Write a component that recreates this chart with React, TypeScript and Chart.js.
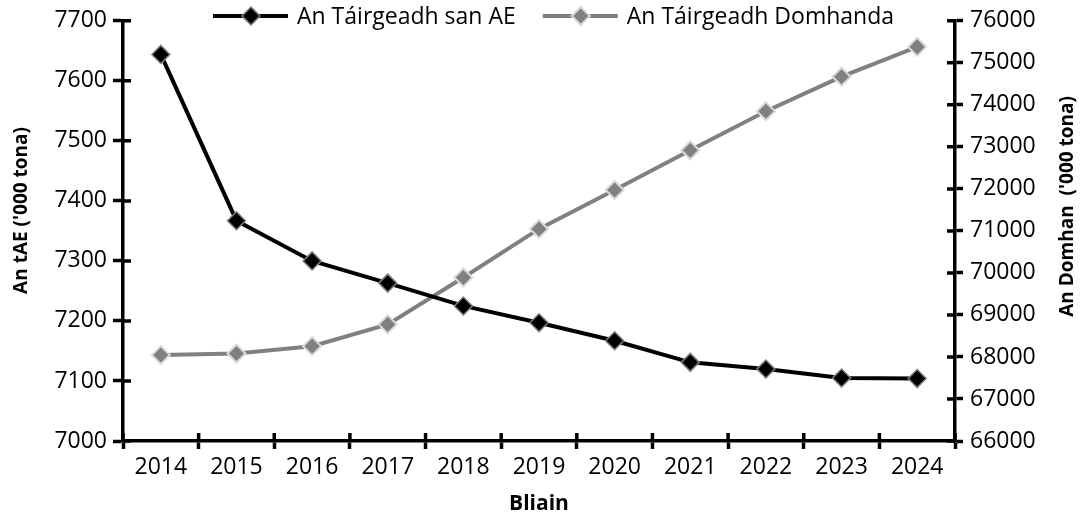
import React, { useEffect, useRef } from "react";
import { Chart, registerables } from "chart.js";

Chart.register(...registerables);

const years = ["2014", "2015", "2016", "2017", "2018", "2019", "2020", "2021", "2022", "2023", "2024"];
const euProduction = [7644, 7367, 7300, 7263, 7225, 7197, 7167, 7131, 7120, 7105, 7104];
const worldProduction = [68045, 68083, 68257, 68776, 69891, 71047, 71974, 72918, 73847, 74670, 75380];

const euLabel = "An Táirgeadh san AE";
const worldLabel = "An Táirgeadh Domhanda";
const leftTitle = "An tAE ('000 tona)";
const rightTitle = "An Domhan  ('000 tona)";
const bottomTitle = "Bliain";

const leftMin = 7000;
const leftMax = 7700;
const leftStep = 100;
const rightMin = 66000;
const rightMax = 76000;
const rightStep = 1000;

const FONT = "'Open Sans', 'DejaVu Sans', sans-serif";

const decorPlugin = {
  id: "decor",
  beforeDatasetsDraw(chart: any) {
    const { ctx } = chart;
    const { x, y, y1 } = chart.scales;
    ctx.save();
    ctx.strokeStyle = "#000";
    ctx.lineWidth = 3.5;
    ctx.beginPath();
    y.ticks.forEach((_: any, i: number) => {
      const py = y.getPixelForTick(i);
      ctx.moveTo(y.right, py);
      ctx.lineTo(y.right + 8, py);
    });
    y1.ticks.forEach((_: any, i: number) => {
      const py = y1.getPixelForTick(i);
      ctx.moveTo(y1.left - 8, py);
      ctx.lineTo(y1.left, py);
    });
    for (let i = 0; i <= years.length; i++) {
      const px = x.getPixelForValue(i - 0.5);
      ctx.moveTo(px, x.top - 8);
      ctx.lineTo(px, x.top);
    }
    ctx.stroke();
    ctx.restore();
  },
  afterDraw(chart: any) {
    const { ctx, chartArea } = chart;
    ctx.save();
    // axis titles
    ctx.fillStyle = "#000";
    ctx.font = `bold 19px ${FONT}`;
    ctx.textBaseline = "middle";
    ctx.textAlign = "right";
    ctx.save();
    ctx.translate(22, 127);
    ctx.rotate(-Math.PI / 2);
    ctx.fillText(leftTitle, 0, 0);
    ctx.restore();
    ctx.save();
    ctx.translate(1068, 96);
    ctx.rotate(-Math.PI / 2);
    ctx.fillText(rightTitle, 0, 0);
    ctx.restore();
    ctx.textAlign = "center";
    ctx.font = `bold 21px ${FONT}`;
    ctx.fillText(bottomTitle, (chartArea.left + chartArea.right) / 2, 504);

    // legend
    ctx.font = `23px ${FONT}`;
    ctx.textAlign = "left";
    let lx = 213;
    const ly = 16;
    chart.data.datasets.forEach((ds: any) => {
      ctx.strokeStyle = ds.borderColor;
      ctx.lineWidth = ds.borderWidth;
      ctx.beginPath();
      ctx.moveTo(lx, ly);
      ctx.lineTo(lx + 75, ly);
      ctx.stroke();
      const cx = lx + 38;
      const r = ds.pointRadius;
      ctx.beginPath();
      ctx.moveTo(cx - r, ly);
      ctx.lineTo(cx, ly - r);
      ctx.lineTo(cx + r, ly);
      ctx.lineTo(cx, ly + r);
      ctx.closePath();
      ctx.fillStyle = ds.pointBackgroundColor;
      ctx.fill();
      ctx.strokeStyle = ds.pointBorderColor;
      ctx.lineWidth = ds.pointBorderWidth;
      ctx.stroke();
      ctx.fillStyle = "#000";
      ctx.fillText(ds.label, lx + 84, ly + 1);
      lx = lx + 84 + ctx.measureText(ds.label).width + 27;
    });
    ctx.restore();
  },
};

export default function App() {
  const ref = useRef<HTMLCanvasElement | null>(null);
  useEffect(() => {
    document.body.style.margin = "0";
    const canvas = ref.current!;
    const tickFont = { family: FONT, size: 23 };
    const plain = (v: any) => String(v);
    const chart = new Chart(canvas, {
      type: "line",
      data: {
        labels: years,
        datasets: [
          {
            label: euLabel,
            data: euProduction,
            yAxisID: "y",
            borderColor: "#000000",
            borderWidth: 4,
            pointStyle: "rectRot",
            pointRadius: 9,
            pointBackgroundColor: "#000000",
            pointBorderColor: "#7f7f7f",
            pointBorderWidth: 1.5,
            tension: 0,
            clip: false,
          },
          {
            label: worldLabel,
            data: worldProduction,
            yAxisID: "y1",
            borderColor: "#808080",
            borderWidth: 4,
            pointStyle: "rectRot",
            pointRadius: 9,
            pointBackgroundColor: "#808080",
            pointBorderColor: "#d9d9d9",
            pointBorderWidth: 2,
            tension: 0,
            clip: false,
          },
        ],
      },
      options: {
        responsive: false,
        animation: false,
        layout: { padding: { top: 18, left: 0, right: 0, bottom: 0 } },
        plugins: { legend: { display: false }, tooltip: { enabled: false } },
        scales: {
          x: {
            type: "category",
            offset: true,
            grid: {
              offset: true,
              drawOnChartArea: false,
              drawTicks: true,
              tickLength: 8,
              tickWidth: 3.5,
              tickColor: "#000",
            },
            border: { color: "#000", width: 3.5 },
            ticks: { font: tickFont, color: "#000", padding: 5, maxRotation: 0 },
            afterFit: (s: any) => {
              s.height = 74;
            },
          },
          y: {
            position: "left",
            min: leftMin,
            max: leftMax,
            grid: {
              drawOnChartArea: false,
              tickLength: 10,
              tickWidth: 3.5,
              tickColor: "#000",
            },
            border: { color: "#000", width: 3.5 },
            ticks: { stepSize: leftStep, font: tickFont, color: "#000", padding: 6, callback: plain },
            afterFit: (s: any) => {
              s.width = 123;
            },
          },
          y1: {
            position: "right",
            min: rightMin,
            max: rightMax,
            grid: {
              drawOnChartArea: false,
              tickLength: 8,
              tickWidth: 3.5,
              tickColor: "#000",
            },
            border: { color: "#000", width: 3.5 },
            ticks: { stepSize: rightStep, font: tickFont, color: "#000", padding: 7, callback: plain },
            afterFit: (s: any) => {
              s.width = 130;
            },
          },
        },
      },
      plugins: [decorPlugin],
    });
    return () => chart.destroy();
  }, []);
  return <canvas ref={ref} width={1085} height={515} style={{ display: "block" }} />;
}
